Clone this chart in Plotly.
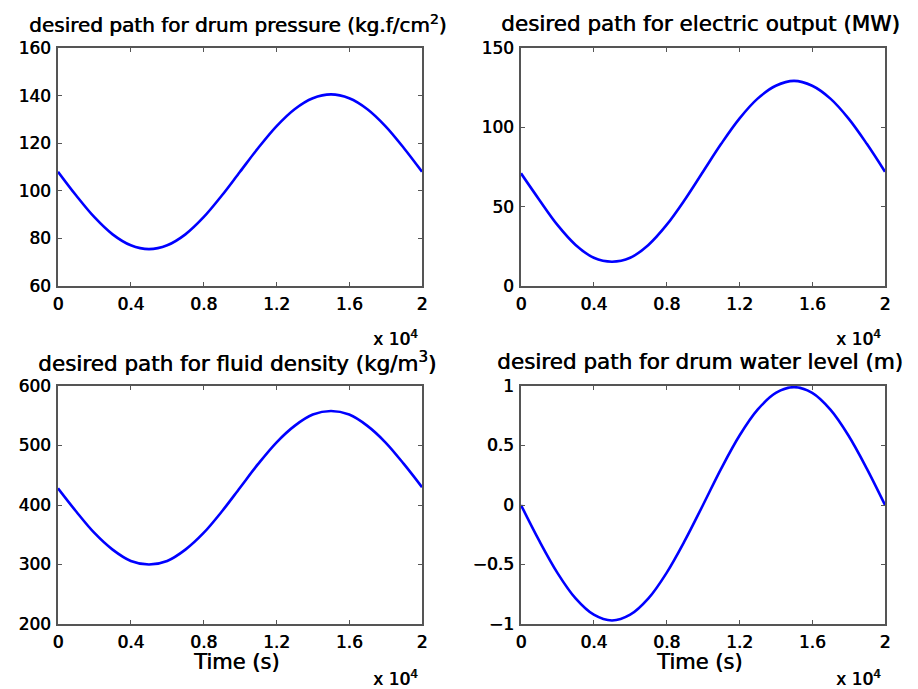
import plotly.graph_objects as go

# time samples (s)
time_s = [0, 1000, 2000, 3000, 4000, 5000, 6000, 7000, 8000, 9000, 10000,
          11000, 12000, 13000, 14000, 15000, 16000, 17000, 18000, 19000, 20000]

drum_pressure = [108, 98.0, 88.9, 81.7, 77.1, 75.5, 77.1, 81.7, 88.9, 98.0, 108,
                 118.0, 127.1, 134.3, 138.9, 140.5, 138.9, 134.3, 127.1, 118.0, 108]
electric_output = [71, 54.4, 38.5, 25.9, 17.8, 15.3, 17.8, 25.9, 38.5, 54.4, 72,
                   89.6, 105.5, 118.1, 126.2, 129.3, 126.2, 118.1, 105.5, 89.6, 72]
fluid_density = [428, 389, 353, 325, 306, 300, 306, 325, 353, 389, 429,
                 469, 505, 533, 552, 558, 552, 533, 505, 469, 430]
water_level = [0, -0.300, -0.570, -0.785, -0.922, -0.97, -0.922, -0.785, -0.570, -0.300, 0,
               0.306, 0.582, 0.801, 0.942, 0.99, 0.942, 0.801, 0.582, 0.306, 0]

x_tickvals = [0, 4000, 8000, 12000, 16000, 20000]
x_ticktext = ["0", "0.4", "0.8", "1.2", "1.6", "2"]

panels = [
    dict(y=drum_pressure, title="desired path for drum pressure (kg.f/cm<sup>2</sup>)",
         yr=[60, 160], yt=[60, 80, 100, 120, 140, 160], xlabel=False, tsize=20),
    dict(y=electric_output, title="desired path for electric output (MW)",
         yr=[0, 150], yt=[0, 50, 100, 150], xlabel=False, tsize=21.5),
    dict(y=fluid_density, title="desired path for fluid density (kg/m<sup>3</sup>)",
         yr=[200, 600], yt=[200, 300, 400, 500, 600], xlabel=True, tsize=21.5),
    dict(y=water_level, title="desired path for drum water level (m)",
         yr=[-1, 1], yt=[-1, -0.5, 0, 0.5, 1], xlabel=True, tsize=21.5),
]

W, H = 918, 689
xdoms = [(58, 422), (521, 885)]
ydoms = [(48, 286), (386, 624)]

FONT = "DejaVu Sans, Arial, sans-serif"
SHADOW = "0.6px 0px 0px black"
fig = go.Figure()
annotations = []
layout = {}
for i, p in enumerate(panels):
    r, c = divmod(i, 2)
    x0, x1 = xdoms[c]
    yt0, yb0 = ydoms[r]
    xa = "xaxis" if i == 0 else f"xaxis{i+1}"
    ya = "yaxis" if i == 0 else f"yaxis{i+1}"
    xref = "x" if i == 0 else f"x{i+1}"
    yref = "y" if i == 0 else f"y{i+1}"
    fig.add_trace(go.Scatter(x=time_s, y=p["y"], mode="lines",
                             line=dict(color="#0000ff", width=2.6, shape="spline"),
                             xaxis=xref, yaxis=yref, showlegend=False))
    axcommon = dict(showline=True, linecolor="#555555", linewidth=1.5, mirror="ticks",
                    ticks="inside", ticklen=4, tickcolor="#555555", showgrid=False,
                    zeroline=False, automargin=False,
                    tickfont=dict(family=FONT, size=17, color="black", shadow=SHADOW))
    layout[xa] = dict(domain=[x0 / W, x1 / W], range=[0, 20000], tickvals=x_tickvals,
                      ticktext=x_ticktext, anchor=yref, ticklabelstandoff=2, **axcommon)
    layout[ya] = dict(domain=[1 - yb0 / H, 1 - yt0 / H], range=p["yr"], tickvals=p["yt"],
                      anchor=xref, ticklabelstandoff=2, **axcommon)
    cx = (x0 + x1) / 2
    annotations.append(dict(text=p["title"], x=(cx - 3) / W, y=1 - (yt0 - 24) / H, xref="paper", yref="paper",
                            xanchor="center", yanchor="middle", showarrow=False,
                            font=dict(family=FONT, size=p["tsize"], color="black", shadow=SHADOW)))
    annotations.append(dict(text="x 10<sup>4</sup>", x=(x1 - 2) / W, y=1 - (yb0 + 52 + 2 * r) / H,
                            xref="paper", yref="paper", xanchor="right", yanchor="middle",
                            showarrow=False, font=dict(family=FONT, size=17, color="black", shadow=SHADOW)))
    if p["xlabel"]:
        annotations.append(dict(text="Time (s)", x=(cx - 4) / W, y=1 - (yb0 + 38) / H, xref="paper",
                                yref="paper", xanchor="center", yanchor="middle", showarrow=False,
                                font=dict(family=FONT, size=21, color="black", shadow=SHADOW)))

fig.update_layout(template="none", width=W, height=H, margin=dict(l=0, r=0, t=0, b=0, pad=0),
                  paper_bgcolor="white", plot_bgcolor="white", showlegend=False,
                  annotations=annotations, **layout)
fig.write_html("out.html")
